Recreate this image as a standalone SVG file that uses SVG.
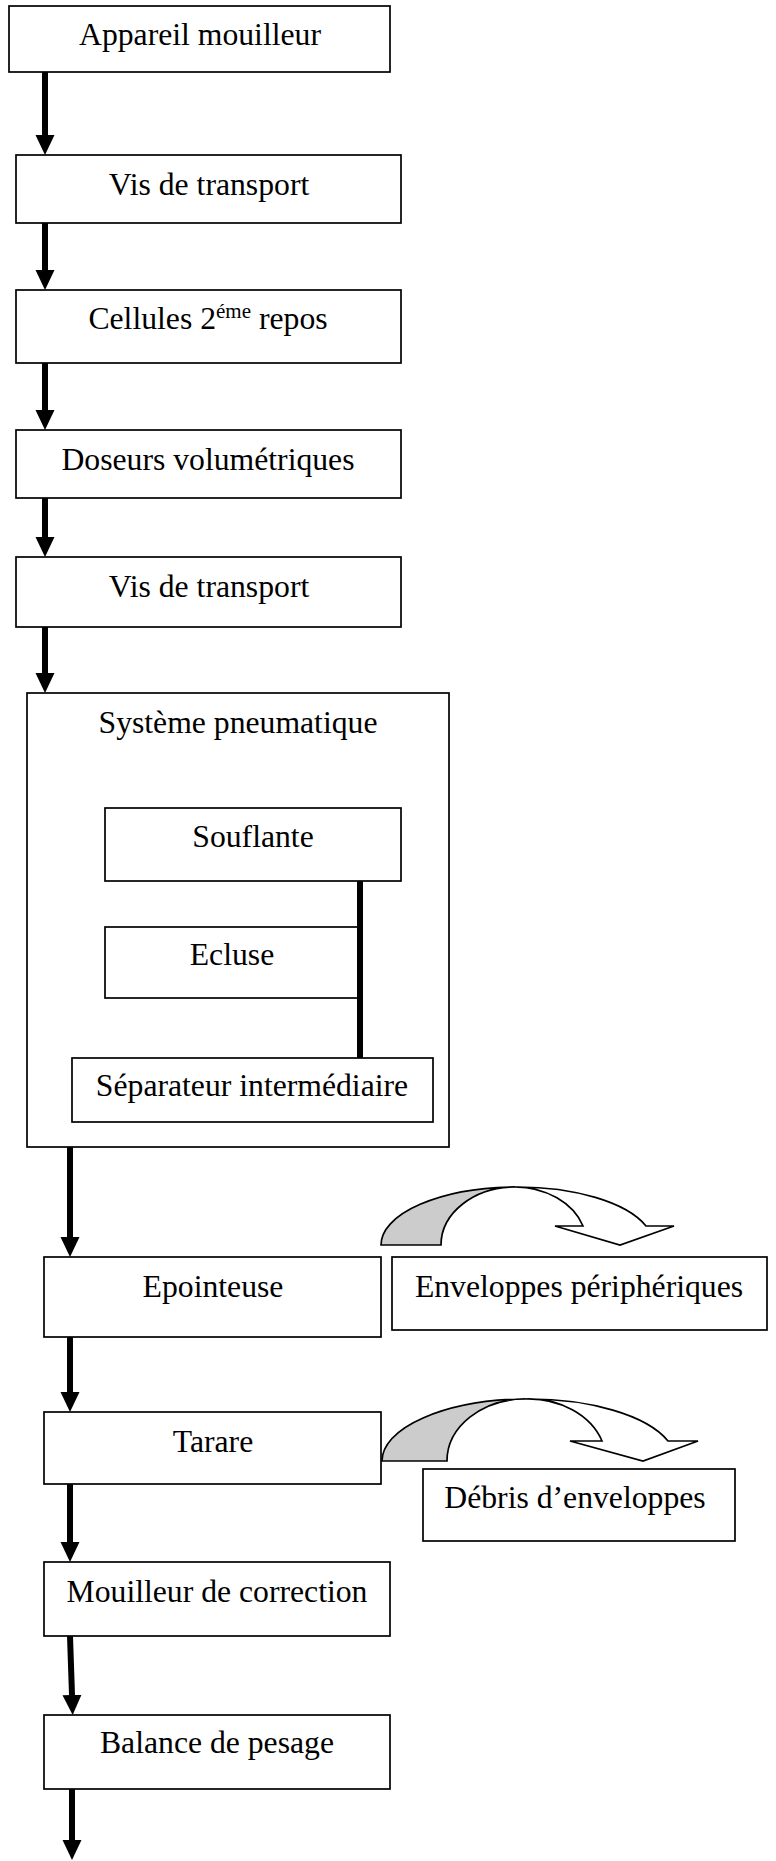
<svg xmlns="http://www.w3.org/2000/svg" width="776" height="1861" viewBox="0 0 776 1861">
<style>
.box{fill:#fff;stroke:#000;stroke-width:1.7}
.t{font-family:"Liberation Serif","Times New Roman",serif;font-size:31.7px;fill:#000;text-anchor:middle}
.sup{font-size:21px}
.conn{stroke:#000;stroke-width:6;fill:none}
.gray{fill:#cccccc;stroke:#000;stroke-width:1.7;stroke-linejoin:miter}
.white{fill:#fff;stroke:#000;stroke-width:1.7;stroke-linejoin:miter}
</style>
<defs>
<marker id="ah" markerUnits="userSpaceOnUse" viewBox="0 -10 20 20" refX="0" refY="0" markerWidth="20" markerHeight="20" orient="auto">
<path d="M0,-9.5 L20,0 L0,9.5 Z" fill="#000"/>
</marker>
</defs>
<rect width="776" height="1861" fill="#fff"/>

<g id="n1"><rect class="box" x="9" y="6" width="381" height="66"/><text class="t" x="200" y="45">Appareil mouilleur</text></g>
<g id="n2"><rect class="box" x="16" y="155" width="385" height="68"/><text class="t" x="209" y="195">Vis de transport</text></g>
<g id="n3"><rect class="box" x="16" y="290" width="385" height="73"/><text class="t" x="208" y="329">Cellules 2<tspan class="sup" dy="-11">éme</tspan><tspan dy="11"> repos</tspan></text></g>
<g id="n4"><rect class="box" x="16" y="430" width="385" height="68"/><text class="t" x="208" y="470">Doseurs volumétriques</text></g>
<g id="n5"><rect class="box" x="16" y="557" width="385" height="70"/><text class="t" x="209" y="597">Vis de transport</text></g>

<g id="n6"><rect class="box" x="27" y="693" width="422" height="454"/><text class="t" x="238" y="733">Système pneumatique</text></g>
<g id="n7"><rect class="box" x="105" y="808" width="296" height="73"/><text class="t" x="253" y="847">Souflante</text></g>
<g id="n8"><rect class="box" x="105" y="927" width="254" height="71"/><text class="t" x="232" y="965">Ecluse</text></g>
<g id="n9"><rect class="box" x="72" y="1058" width="361" height="64"/><text class="t" x="252" y="1096">Séparateur intermédiaire</text></g>

<g id="n10"><rect class="box" x="44" y="1257" width="337" height="80"/><text class="t" x="213" y="1297">Epointeuse</text></g>
<g id="n11"><rect class="box" x="392" y="1257" width="375" height="73"/><text class="t" x="579" y="1297">Enveloppes périphériques</text></g>
<g id="n12"><rect class="box" x="44" y="1412" width="337" height="72"/><text class="t" x="213" y="1452">Tarare</text></g>
<g id="n13"><rect class="box" x="423" y="1469" width="312" height="72"/><text class="t" x="575" y="1508">Débris d’enveloppes</text></g>
<g id="n14"><rect class="box" x="44" y="1562" width="346" height="74"/><text class="t" x="217" y="1602">Mouilleur de correction</text></g>
<g id="n15"><rect class="box" x="44" y="1715" width="346" height="74"/><text class="t" x="217" y="1753">Balance de pesage</text></g>

<g id="connectors">
<line class="conn" x1="45" y1="72" x2="45" y2="135" marker-end="url(#ah)"/>
<line class="conn" x1="45" y1="223" x2="45" y2="270" marker-end="url(#ah)"/>
<line class="conn" x1="45" y1="363" x2="45" y2="410" marker-end="url(#ah)"/>
<line class="conn" x1="45" y1="498" x2="45" y2="537" marker-end="url(#ah)"/>
<line class="conn" x1="45" y1="627" x2="45" y2="673" marker-end="url(#ah)"/>
<line class="conn" x1="360" y1="881" x2="360" y2="1058"/>
<line class="conn" x1="70" y1="1147" x2="70" y2="1237" marker-end="url(#ah)"/>
<line class="conn" x1="70" y1="1337" x2="70" y2="1392" marker-end="url(#ah)"/>
<line class="conn" x1="70" y1="1484" x2="70" y2="1542" marker-end="url(#ah)"/>
<line class="conn" x1="70" y1="1636" x2="72" y2="1695" marker-end="url(#ah)"/>
<line class="conn" x1="72" y1="1789" x2="72" y2="1840" marker-end="url(#ah)"/>

<path class="gray" d="M381,1245 A136,58 0 0 1 515,1187 A74,58 0 0 0 441,1245 Z"/>
<path class="white" d="M515,1187 A136,58 0 0 1 646,1226 L674,1226 L620,1245 L555,1226 L583,1226 A72,57 0 0 0 515,1187 Z"/>

<path class="gray" d="M382,1461 A147,62 0 0 1 525,1399 A78,62 0 0 0 447,1461 Z"/>
<path class="white" d="M525,1399 A147,62 0 0 1 668,1441 L698,1441 L643,1461 L570,1441 L602,1441 A78,62 0 0 0 525,1399 Z"/>
</g>
</svg>
